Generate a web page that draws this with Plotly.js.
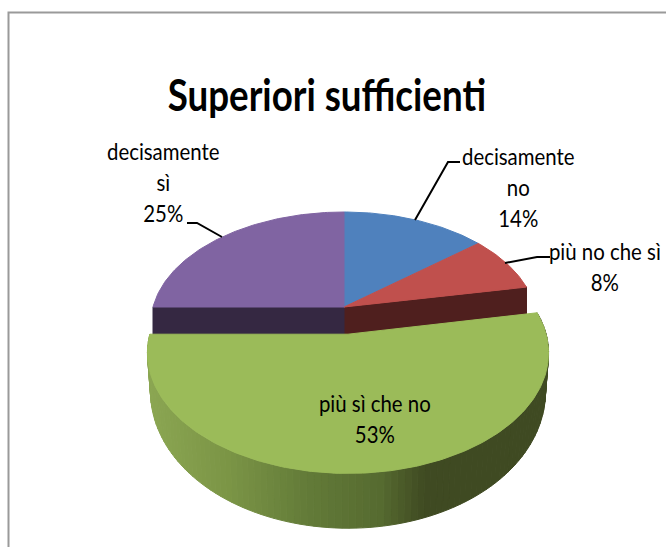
<!DOCTYPE html>
<html><head><meta charset="utf-8">
<script src="https://cdn.plot.ly/plotly-3.0.1.min.js"></script>
<style>html,body{margin:0;padding:0;background:#fff;overflow:hidden}</style>
</head><body><div id="chart" style="width:666px;height:547px"></div>
<script>
// Chart data
const categories = ["decisamente no", "più no che sì", "più sì che no", "decisamente sì"];
const values = [14, 8, 53, 25];
const chartTitle = "Superiori sufficienti";
const labelTexts = ["decisamente<br>no<br>14%", "più no che sì<br>8%", "più sì che no<br>53%", "decisamente<br>sì<br>25%"];
const labelX = [518, 605, 375, 163];
const labelY = [186, 266, 418, 181];
const topColors = ["#4f81bd", "#c0504d", "#9bbb59", "#8064a2"];
const wallColors = ["#2a4260", "#4f1f1e", "#9bbb59", "#352842"];
const leaderX = [[415, 448, 460], [505, 537, 550], null, [222, 197, 187]];
const leaderY = [[220, 162, 162], [263, 257, 257], null, [237, 223, 223]];
const gradX = [148, 230, 310, 380, 425, 550];
const gradC = [[139,166,82],[122,148,69],[98,122,56],[86,107,48],[63,74,34],[63,74,34]];

// Perspective model of the pie
const cx = 344, cy = 307, rx = 191, ry = 109.25, k = 0.15, explode = 0.24;
function proj(theta, r, d, drop, scale, dx) {
  const u = r * Math.sin(theta), v = -r * Math.cos(theta) + d;
  const w = 1 / (1 - k * v);
  return [cx + dx + rx * scale * u * w, cy + ry * v * w + (drop || 0)];
}
function arc(a0, a1, d, drop, scale, dx) {
  const n = Math.max(4, Math.round((a1 - a0) * 60)), pts = [];
  for (let i = 0; i <= n; i++) pts.push(proj(a0 + (a1 - a0) * i / n, 1, d, drop, scale, dx));
  return pts;
}
function poly(pts, color, name) {
  return {x: pts.map(p => p[0]).concat(pts[0][0]), y: pts.map(p => p[1]).concat(pts[0][1]),
    mode: "lines", fill: "toself", fillcolor: color, line: {color: color, width: 1},
    hoverinfo: "skip", name: name, showlegend: false, type: "scatter"};
}
function gradColor(x) {
  let i = 0;
  while (i < gradX.length - 2 && x > gradX[i + 1]) i++;
  const t = Math.min(1, Math.max(0, (x - gradX[i]) / (gradX[i + 1] - gradX[i])));
  const c = gradC[i].map((a, j) => Math.round(a + (gradC[i + 1][j] - a) * t));
  return "rgb(" + c.join(",") + ")";
}

const total = values.reduce((a, b) => a + b, 0);
let acc = 0;
const angles = values.map(v => { const a = [acc, acc + v / total * 2 * Math.PI]; acc = a[1]; return a; });
const traces = [];
const gs = 1.0, gdx = 4;
const depthAt = v => 30 + 20 * v;

// Back slices: inner cut walls, then tops
[1, 3].forEach(i => {
  const edge = i === 1 ? angles[i][1] : angles[i][0];
  const rim = proj(edge, 1, 0, 0, 1, 0);
  const rimB = proj(edge, 1, 0, depthAt(0) - 2, 1, 0);
  traces.push(poly([[cx, cy], rim, rimB, [cx, cy + 28]], wallColors[i], categories[i]));
});
[0, 1, 3].forEach(i => {
  traces.push(poly([[cx, cy]].concat(arc(angles[i][0], angles[i][1], 0, 0, 1, 0)), topColors[i], categories[i]));
});

// Exploded slice: shaded outer wall strips, then top
const ga = angles[2];
const N = 110;
for (let j = 0; j < N; j++) {
  const a0 = ga[0] + (ga[1] - ga[0]) * j / N, a1 = ga[0] + (ga[1] - ga[0]) * (j + 1) / N;
  const p0 = proj(a0, 1, explode, 0, gs, gdx), p1 = proj(a1, 1, explode, 0, gs, gdx);
  const v0 = -Math.cos(a0) + explode, v1 = -Math.cos(a1) + explode;
  const b0 = [cx + gdx + (p0[0] - cx - gdx) * 0.985, p0[1] + depthAt(v0)];
  const b1 = [cx + gdx + (p1[0] - cx - gdx) * 0.985, p1[1] + depthAt(v1)];
  traces.push(poly([p0, p1, b1, b0], gradColor((p0[0] + p1[0]) / 2), categories[2]));
}
const apex = proj(0, 0, explode, 0, gs, gdx);
traces.push(poly([apex].concat(arc(ga[0], ga[1], explode, 0, gs, gdx)), topColors[2], categories[2]));

// Leader lines
leaderX.forEach((lx, i) => {
  if (!lx) return;
  traces.push({x: lx, y: leaderY[i], mode: "lines", line: {color: "#000", width: 2},
    hoverinfo: "skip", showlegend: false, type: "scatter"});
});

const FONT = "Lato, 'Liberation Sans', sans-serif";
const annotations = labelTexts.map((t, i) => ({
  x: labelX[i], y: labelY[i], xref: "x", yref: "y", text: t, showarrow: false,
  xanchor: "center", yanchor: "middle", align: "center",
  font: {family: FONT, size: 24, color: "#000"}
}));
annotations.push({x: 327, y: 94, xref: "x", yref: "y", text: "<b>" + chartTitle + "</b>", showarrow: false,
  xanchor: "center", yanchor: "middle", font: {family: FONT, size: 44, color: "#000"}});

Plotly.newPlot("chart", traces, {
  width: 666, height: 547, autosize: false,
  margin: {l: 0, r: 0, t: 0, b: 0},
  paper_bgcolor: "#fff", plot_bgcolor: "#fff", showlegend: false,
  xaxis: {range: [0, 666], visible: false, fixedrange: true},
  yaxis: {range: [547, 0], visible: false, fixedrange: true},
  annotations: annotations,
  shapes: [{type: "rect", xref: "x", yref: "y", x0: 8.5, y0: 12.5, x1: 700, y1: 600,
    line: {color: "#9a9a9a", width: 2}, layer: "below"}]
}, {displayModeBar: false, staticPlot: true}).then(() => {
  // The reference uses a condensed face: narrow the real text horizontally around its centre.
  document.querySelectorAll("#chart .annotation-text").forEach(t => {
    const b = t.getBBox(), c = b.x + b.width / 2;
    const sx = t.textContent.indexOf("Superiori") === 0 ? 0.834 : 0.85;
    t.setAttribute("transform", "translate(" + c + ",0) scale(" + sx + ",1) translate(" + (-c) + ",0)");
  });
});
</script></body></html>
